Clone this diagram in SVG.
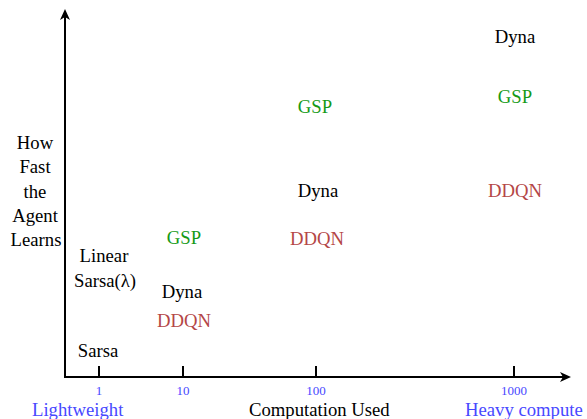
<svg xmlns="http://www.w3.org/2000/svg" width="587" height="419" viewBox="0 0 587 419">
<style>
text{font-family:"Liberation Serif","Times New Roman",serif;font-size:18.7px;text-anchor:middle}
.k{fill:#000}
.g{fill:#169a16}
.r{fill:#b44646}
.b{fill:#4848ff}
.t{font-size:13px}
.s{text-anchor:start}
.ax{stroke:#000;stroke-width:2;fill:none}
</style>
<defs>
<marker id="ah" viewBox="0 0 11 10" refX="5" refY="5" markerWidth="11" markerHeight="10" orient="auto" markerUnits="userSpaceOnUse">
<path d="M0,0 L11,5 L0,10 L3,5 z" fill="#000"/>
</marker>
</defs>
<g id="axes">
<path class="ax" d="M65,378 L65,15" marker-end="url(#ah)"/>
<path class="ax" d="M64,377 L565,377" marker-end="url(#ah)"/>
<path class="ax" d="M99,366 V378 M183,366 V378 M316,366 V378 M514,366 V378"/>
</g>
<g id="ticks">
<text class="b t" x="99" y="395">1</text>
<text class="b t" x="183" y="395">10</text>
<text class="b t" x="316" y="395">100</text>
<text class="b t" x="514" y="395">1000</text>
<text class="b s" x="32" y="416">Lightweight</text>
<text class="k s" x="249" y="416">Computation Used</text>
<text class="b s" x="465" y="416">Heavy compute</text>
</g>
<g id="ylabel">
<text class="k" x="35" y="149">How</text>
<text class="k" x="35" y="173">Fast</text>
<text class="k" x="35" y="198">the</text>
<text class="k" x="35" y="222">Agent</text>
<text class="k" x="36" y="246">Learns</text>
</g>
<g id="n1">
<text class="k" x="104" y="262">Linear</text>
<text class="k" x="105" y="287">Sarsa(λ)</text>
<text class="k" x="98" y="357">Sarsa</text>
</g>
<g id="n10">
<text class="g" x="184" y="244">GSP</text>
<text class="k" x="182" y="298">Dyna</text>
<text class="r" x="184" y="327">DDQN</text>
</g>
<g id="n100">
<text class="g" x="315" y="113">GSP</text>
<text class="k" x="318" y="197">Dyna</text>
<text class="r" x="317" y="245">DDQN</text>
</g>
<g id="n1000">
<text class="k" x="515" y="43">Dyna</text>
<text class="g" x="515" y="103">GSP</text>
<text class="r" x="515" y="197">DDQN</text>
</g>
</svg>
